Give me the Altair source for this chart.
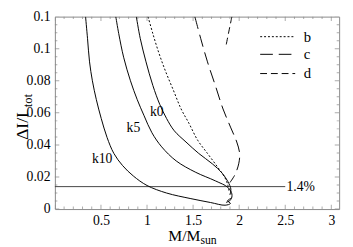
import altair as alt
import pandas as pd

# ---- curve data ----
k10_x = [0.333, 0.354, 0.376, 0.407, 0.450, 0.503, 0.566, 0.640, 0.735, 0.852, 1.000, 1.212, 1.476, 1.688, 1.847, 1.905, 1.875, 1.915]
k10_y = [0.120, 0.1065, 0.0918, 0.080, 0.0682, 0.0565, 0.0447, 0.0347, 0.0271, 0.0206, 0.0147, 0.0100, 0.0065, 0.0041, 0.0024, 0.0035, 0.0052, 0.0068]
k5_x = [0.661, 0.693, 0.746, 0.820, 0.894, 0.968, 1.053, 1.159, 1.317, 1.529, 1.741, 1.878, 1.921, 1.910, 1.857]
k5_y = [0.120, 0.1094, 0.0947, 0.0800, 0.0682, 0.0582, 0.0476, 0.0388, 0.0300, 0.0229, 0.0176, 0.0135, 0.0094, 0.0059, 0.0041]
k0_x = [0.884, 0.926, 0.989, 1.063, 1.138, 1.212, 1.296, 1.423, 1.561, 1.709, 1.815, 1.878, 1.910, 1.899]
k0_y = [0.120, 0.1065, 0.0918, 0.0771, 0.0653, 0.0565, 0.0488, 0.0418, 0.0347, 0.0282, 0.0224, 0.0171, 0.0124, 0.0088]
b_x = [1.011, 1.063, 1.127, 1.201, 1.286, 1.370, 1.455, 1.550, 1.656, 1.762, 1.847, 1.878, 1.890]
b_y = [0.120, 0.1094, 0.0976, 0.0859, 0.0741, 0.0624, 0.0535, 0.0429, 0.0347, 0.0265, 0.0194, 0.0147, 0.0110]
c_x = [1.519, 1.582, 1.656, 1.741, 1.825, 1.910, 1.974, 2.005, 1.995, 1.952, 1.899]
c_y = [0.120, 0.1065, 0.0918, 0.0771, 0.0624, 0.0506, 0.0418, 0.0347, 0.0282, 0.0212, 0.0165]
d_x = [1.921, 1.889, 1.857]
d_y = [0.120, 0.111, 0.1018]

# ---- legend (drawn inside the plot, as in the original) ----
legend_keys = ["b", "c", "d"]
legend_y = [0.1075, 0.0965, 0.0845]
legend_x0, legend_x1, legend_text_x = 2.228, 2.608, 2.70

# ---- annotations ----
curve_labels = ["k10", "k5", "k0"]
curve_label_x = [0.513, 0.852, 1.106]
curve_label_y = [0.0312, 0.0506, 0.0606]
level_value = 0.014
level_x_end = 2.5
level_label = "1.4%"
level_label_x = 2.513

# ---- axis ticks ----
x_labels = [0.5, 1, 1.5, 2, 2.5, 3]
y_labels = [0, 0.02, 0.04, 0.06, 0.08, 0.1, 0.12]
x_major = [0, 0.5, 1, 1.5, 2, 2.5, 3]
y_major = [0, 0.02, 0.04, 0.06, 0.08, 0.10, 0.12]
x_minor = [round(i * 0.1, 2) for i in range(31) if i % 5 != 0]
y_minor = [round(i * 0.005, 3) for i in range(25) if i % 4 != 0]

FONT = "Liberation Serif"
W, H = 291, 197
XMAX = 3.085


def long(name, xs, ys):
    return pd.DataFrame({"curve": name, "i": range(len(xs)), "x": xs, "y": ys})


solid = pd.concat([long("k10", k10_x, k10_y), long("k5", k5_x, k5_y), long("k0", k0_x, k0_y)])
dashed = pd.concat([long("b", b_x, b_y), long("c", c_x, c_y), long("d", d_x, d_y)])

xs = alt.Scale(domain=[0, XMAX], nice=False, zero=False)
ys = alt.Scale(domain=[0, 0.12], nice=False, zero=False)
xaxis = alt.Axis(values=x_labels, format="~g", title=None, ticks=False, domain=False, grid=False,
                 labelFont=FONT, labelFontSize=14, labelPadding=5, labelColor="black")
yaxis = alt.Axis(values=y_labels, format="~g", title=None, ticks=False, domain=False, grid=False,
                 labelFont=FONT, labelFontSize=14, labelPadding=5, labelColor="black")
X = alt.X("x:Q", scale=xs, axis=xaxis)
Y = alt.Y("y:Q", scale=ys, axis=yaxis)
dash_scale = alt.Scale(domain=["b", "c", "d"], range=[[2, 2], [13, 6], [7, 4]])

tx = pd.concat([pd.DataFrame({"x": x_major, "kind": "major"}), pd.DataFrame({"x": x_minor, "kind": "minor"})])
ty = pd.concat([pd.DataFrame({"y": y_major, "kind": "major"}), pd.DataFrame({"y": y_minor, "kind": "minor"})])
tsize = alt.Size("kind:N", scale=alt.Scale(domain=["major", "minor"], range=[9, 5]), legend=None)

tick_style = dict(clip=True, color="#888", thickness=1)
bottom_ticks = alt.Chart(tx).mark_tick(**tick_style).encode(x=X, y=alt.value(H), size=tsize)
top_ticks = alt.Chart(tx).mark_tick(**tick_style).encode(x=X, y=alt.value(0), size=tsize)
left_ticks = alt.Chart(ty).mark_tick(**tick_style).encode(y=Y, x=alt.value(0), size=tsize)
right_ticks = alt.Chart(ty).mark_tick(**tick_style).encode(y=Y, x=alt.value(W), size=tsize)

level_df = pd.DataFrame({"x": [0], "x2": [level_x_end], "y": [level_value]})
level = alt.Chart(level_df).mark_rule(color="#444", strokeWidth=1).encode(x=X, x2="x2:Q", y=Y)

solid_lines = alt.Chart(solid).mark_line(color="black", strokeWidth=1, clip=True, interpolate="catmull-rom").encode(
    x=X, y=Y, detail="curve:N", order="i:Q")

dashed_lines = alt.Chart(dashed).mark_line(color="black", strokeWidth=1, clip=True, interpolate="catmull-rom").encode(
    x=X, y=Y, order="i:Q", strokeDash=alt.StrokeDash("curve:N", scale=dash_scale, legend=None))

leg_df = pd.DataFrame({"curve": legend_keys, "y": legend_y, "x": legend_x0, "x2": legend_x1, "tx": legend_text_x})
leg_lines = alt.Chart(leg_df).mark_rule(color="black", strokeWidth=1).encode(
    x=X, x2="x2:Q", y=Y, strokeDash=alt.StrokeDash("curve:N", scale=dash_scale, legend=None))
leg_text = alt.Chart(leg_df).mark_text(font=FONT, fontSize=15, color="black", align="left").encode(
    x=alt.X("tx:Q", scale=xs, axis=xaxis), y=Y, text="curve:N")

lab_df = pd.DataFrame({"x": curve_label_x, "y": curve_label_y, "t": curve_labels})
labels = alt.Chart(lab_df).mark_text(font=FONT, fontSize=14, color="black").encode(x=X, y=Y, text="t:N")

lvl_lab_df = pd.DataFrame({"x": [level_label_x], "y": [level_value], "t": [level_label]})
lvl_label = alt.Chart(lvl_lab_df).mark_text(font=FONT, fontSize=14, color="black", align="left").encode(
    x=X, y=Y, text="t:N")

title_df = pd.DataFrame({"a": [0]})
ytitle_main = alt.Chart(title_df).mark_text(font=FONT, fontSize=18, angle=270, align="center", color="black",
                                            text="ΔI/I").encode(x=alt.value(-33), y=alt.value(112))
ytitle_sub = alt.Chart(title_df).mark_text(font=FONT, fontSize=13, angle=270, align="center", color="black",
                                           text="tot").encode(x=alt.value(-27), y=alt.value(86))
xtitle_main = alt.Chart(title_df).mark_text(font=FONT, fontSize=16, align="right", baseline="middle", color="black",
                                            text="M/M").encode(x=alt.value(149), y=alt.value(225))
xtitle_sub = alt.Chart(title_df).mark_text(font=FONT, fontSize=12, align="left", baseline="middle", color="black",
                                           text="sun").encode(x=alt.value(149), y=alt.value(229))

chart = alt.layer(
    bottom_ticks, top_ticks, left_ticks, right_ticks,
    level, solid_lines, dashed_lines, leg_lines, leg_text, labels, lvl_label,
    ytitle_main, ytitle_sub, xtitle_main, xtitle_sub,
).properties(
    width=W, height=H,
    autosize=alt.AutoSizeParams(type="none"),
    padding={"left": 48, "top": 6, "right": 6, "bottom": 36},
).configure_view(stroke="#888", strokeWidth=1)

chart.save("out.html", embed_options={"renderer": "svg", "actions": False})
